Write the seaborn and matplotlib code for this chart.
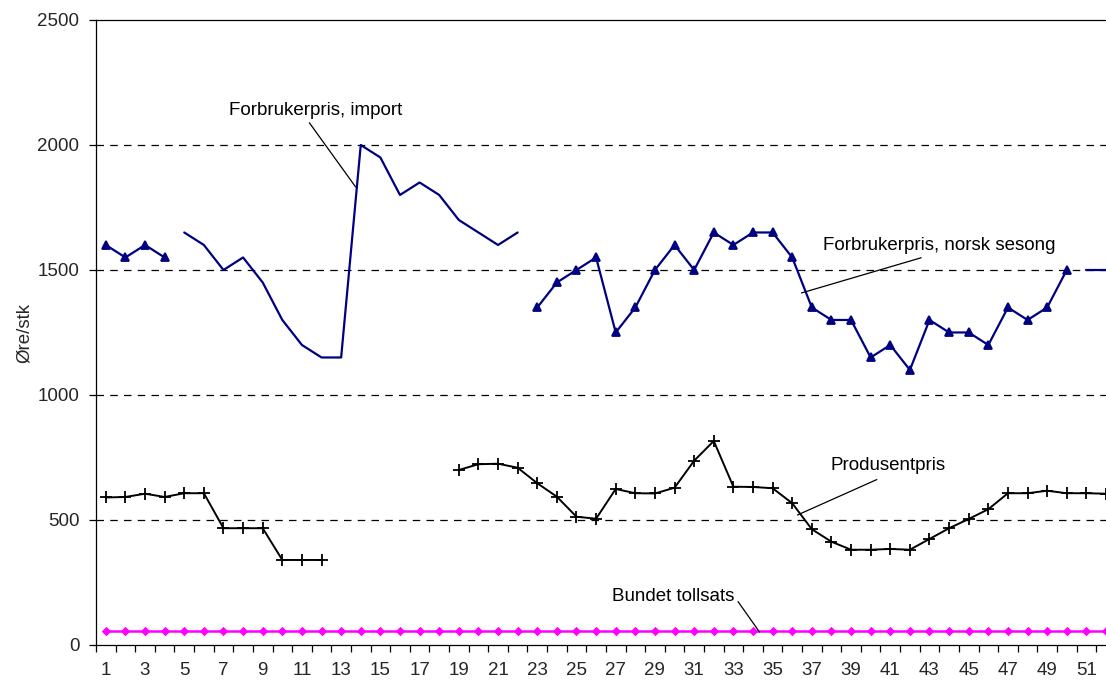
"""
Weekly prices (øre/stk): consumer prices, producer price and bound tariff.
"""

import matplotlib

matplotlib.use("Agg")
import matplotlib.pyplot as plt
import numpy as np
import pandas as pd
import seaborn as sns

weeks = list(range(1, 53))

import_price = (
    [None] * 4
    + [1650, 1600, 1500, 1550, 1450, 1300, 1200, 1150, 1150,
       2000, 1950, 1800, 1850, 1800, 1700, 1650, 1600, 1650]
    + [None] * 28
    + [1500, 1500]
)
norsk_price = (
    [1600, 1550, 1600, 1550]
    + [None] * 18
    + [1350, 1450, 1500, 1550, 1250, 1350, 1500, 1600, 1500, 1650,
       1600, 1650, 1650, 1550, 1350, 1300, 1300, 1150, 1200, 1100,
       1300, 1250, 1250, 1200, 1350, 1300, 1350, 1500]
    + [None] * 2
)
produsent_price = (
    [590, 592, 605, 592, 607, 607, 467, 467, 467, 340, 340, 340]
    + [None] * 6
    + [700, 723, 725, 709, 647, 593, 513, 505, 624, 607,
       606, 629, 737, 816, 633, 632, 627, 567, 463, 413,
       381, 381, 384, 381, 424, 467, 504, 543, 607, 607,
       617, 607, 607, 605]
)
tollsats = [57] * 52

y_ticks = [0, 500, 1000, 1500, 2000, 2500]
x_labels = [str(w) for w in weeks if w % 2 == 1]


def segments(values):
    """Long-form frame with a segment id so gaps stay gaps."""
    df = pd.DataFrame({"week": weeks, "value": values}, dtype=float)
    df["segment"] = df["value"].isna().cumsum()
    return df.dropna()


sns.set_theme(style="white")
plt.rcParams["font.family"] = ["Liberation Sans", "DejaVu Sans"]
fs = 13.5

fig = plt.figure(figsize=(11.06, 6.82), dpi=100)
ax = fig.add_axes([0.0868, 0.0543, 0.9132, 0.9164])

for y in y_ticks[1:-1]:
    ax.axhline(y, color="black", lw=0.9, dashes=(6, 5), zorder=0)

series = [
    (import_price, "#000080", None, 0, 1.6),
    (norsk_price, "#000080", "^", 6, 1.6),
    (produsent_price, "black", "+", 9, 1.4),
    (tollsats, "#FF00FF", "D", 3.5, 1.8),
]
for values, color, marker, msize, lw in series:
    sns.lineplot(
        data=segments(values), x="week", y="value", units="segment",
        estimator=None, color=color, lw=lw, marker=marker,
        markersize=msize, markeredgecolor=color, markeredgewidth=1.3,
        legend=False, ax=ax,
    )

ax.set_xlim(0.5, 52.0)
ax.set_ylim(0, 2500)
ax.set_yticks(y_ticks)
ax.set_xticks([w for w in weeks if w % 2 == 1])
ax.set_xticklabels(x_labels)
ax.set_xticks(np.arange(0.5, 52.5, 1.0), minor=True)
ax.tick_params(axis="x", which="major", length=0, pad=12, labelsize=fs)
ax.tick_params(axis="x", which="minor", length=5, width=0.9, color="black",
               direction="out", bottom=True)
ax.tick_params(axis="y", length=5, width=0.9, color="black", direction="out",
               left=True, pad=7, labelsize=fs)
ax.set_xlabel("")
ax.set_ylabel("Øre/stk", fontsize=fs, labelpad=3)

for side in ("left", "bottom", "top"):
    ax.spines[side].set_color("black")
    ax.spines[side].set_linewidth(0.9)
ax.spines["right"].set_visible(False)

note = dict(fontsize=fs, color="black", ha="center", va="center")
lead = dict(arrowstyle="-", color="black", lw=0.9, shrinkA=0, shrinkB=0)
ax.annotate("Forbrukerpris, import", xy=(13.74, 1832), xytext=(11.7, 2136),
            arrowprops=dict(lead, relpos=(0.45, 0)), **note)
ax.annotate("Forbrukerpris, norsk sesong", xy=(36.47, 1408),
            xytext=(43.5, 1596), arrowprops=dict(lead, relpos=(0.47, 0)),
            **note)
ax.annotate("Produsentpris", xy=(36.27, 520), xytext=(40.9, 716),
            arrowprops=dict(lead, relpos=(0.4, -0.3)), **note)
ax.annotate("Bundet tollsats", xy=(34.33, 52), xytext=(29.95, 192),
            arrowprops=dict(lead, relpos=(1.0, 0.5)), **note)

fig.savefig("out.png", dpi=100)
